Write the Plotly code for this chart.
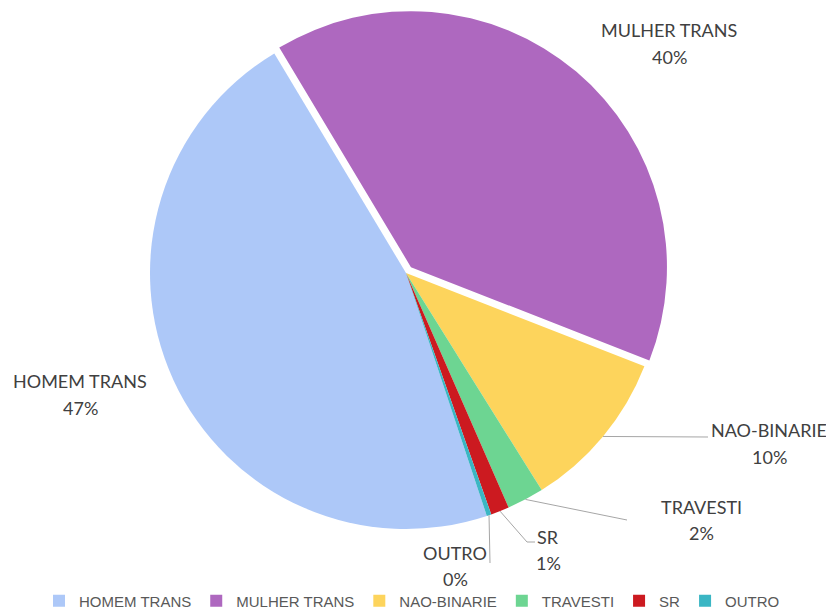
import math
import plotly.graph_objects as go

# ---- data ----
categories = ["HOMEM TRANS", "MULHER TRANS", "NAO-BINARIE", "TRAVESTI", "SR", "OUTRO"]
values = [160, 136, 35, 8, 4, 1]
colors = ["#ADC8F8", "#AE68BF", "#FDD45C", "#6DD592", "#CC1A20", "#3AB6C4"]
pulls = [0, 0.03, 0, 0, 0, 0]

# ---- geometry / style ----
# page is 834x610; the html body has an 8px margin, so the figure is 826x602
OFF = 8
W, H = 834 - OFF, 610 - OFF
CX, CY = 406, 273     # pie centre in page pixels
R = 256
ROT = 161.6  # start angle of first slice, clockwise from 12 o'clock
maxpull = max(pulls)
half = R * (1 + maxpull)
LINE_GAP = 26.5


def px2paper(x, y):
    return (x - OFF) / W, 1 - (y - OFF) / H


x0, y1 = px2paper(CX - half, CY - half)
x1, y0 = px2paper(CX + half, CY + half)
dom_x = [max(0, x0), min(1, x1)]
dom_y = [max(0, y0), min(1, y1)]

total = sum(values)
pcts = [round(v / total * 100) for v in values]

fig = go.Figure(go.Pie(
    labels=categories,
    values=values,
    marker=dict(colors=colors, line=dict(width=0)),
    pull=pulls,
    sort=False,
    direction="clockwise",
    rotation=ROT,
    textinfo="none",
    hoverinfo="label+percent",
    domain=dict(x=dom_x, y=dom_y),
))

# label anchor positions (page px, centre of the two-line block) and leader line end points
label_pos = {
    "HOMEM TRANS": (80, 394.5),
    "MULHER TRANS": (669, 43.5),
    "NAO-BINARIE": (769, 443.5),
    "TRAVESTI": (701, 520),
    "SR": (548, 550),
    "OUTRO": (455, 566),
}
leader_end = {
    "NAO-BINARIE": [(708, 437)],
    "TRAVESTI": [(627, 520)],
    "SR": [(527, 542), (535, 542)],
    "OUTRO": [(490, 563)],
}

label_font = dict(family="Lato, Open Sans, sans-serif", size=18, color="#404040")
annotations = []
for cat, p in zip(categories, pcts):
    lx, ly = label_pos[cat]
    for txt, yy in ((cat, ly - LINE_GAP / 2), (f"{p}%", ly + LINE_GAP / 2)):
        ax, ay = px2paper(lx, yy)
        annotations.append(dict(
            x=ax, y=ay, xref="paper", yref="paper",
            text=txt, showarrow=False,
            xanchor="center", yanchor="middle", align="center",
            font=label_font,
        ))

shapes = []
cum = ROT
for cat, v in zip(categories, values):
    ang = v / total * 360
    mid = math.radians(cum + ang / 2)
    cum += ang
    if cat in leader_end:
        sx = CX + R * math.sin(mid)
        sy = CY - R * math.cos(mid)
        pts = [(sx, sy)] + leader_end[cat]
        path = ""
        for i, (x, y) in enumerate(pts):
            px, py = px2paper(x, y)
            path += ("M" if i == 0 else "L") + f" {px} {py} "
        shapes.append(dict(type="path", path=path, xref="paper", yref="paper",
                           line=dict(color="#A6A6A6", width=1)))

lx_leg, ly_leg = px2paper(412, 601)
fig.update_layout(
    width=W, height=H,
    margin=dict(l=0, r=0, t=0, b=0, autoexpand=False),
    paper_bgcolor="white",
    plot_bgcolor="white",
    annotations=annotations,
    shapes=shapes,
    showlegend=True,
    legend=dict(
        orientation="h", x=lx_leg, xanchor="center", y=ly_leg, yanchor="middle",
        font=dict(family="Liberation Sans Narrow, Arial Narrow, Liberation Sans, sans-serif",
                  size=15, color="#595959"),
        itemwidth=30,
        tracegroupgap=0,
    ),
)

fig.write_html("out.html")
